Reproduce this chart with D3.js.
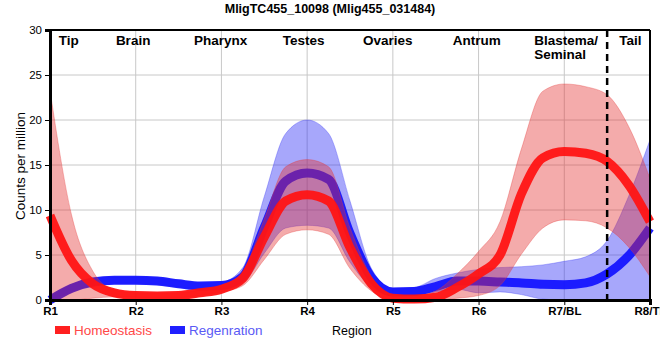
<!DOCTYPE html>
<html><head><meta charset="utf-8">
<script src="https://cdn.jsdelivr.net/npm/d3@7"></script>
<style>
html,body{margin:0;padding:0;background:#fff;}
svg{display:block;font-family:"Liberation Sans",Arial,sans-serif;}
</style></head>
<body><svg id="c" width="660" height="360"></svg>
<script>
const regions = ["R1","R2","R3","R4","R5","R6","R7/BL","R8/TL"];
const yTicks = [0,5,10,15,20,25,30];
const sectionNames = ["Tip","Brain","Pharynx","Testes","Ovaries","Antrum","Blastema/\nSeminal","Tail"];
const sectionAt = [0.22,0.97,1.99,2.96,3.94,4.98,5.65,6.77];
const tailBoundary = 6.5;
const xPos = [0,0.25,0.5,0.75,1,1.25,1.5,1.75,2,2.25,2.5,2.75,3,3.25,3.5,3.75,4,4.25,4.5,4.75,5,5.25,5.5,5.75,6,6.25,6.5,6.75,7];
const homeoMean = [9.4,4.4,1.8,0.8,0.5,0.45,0.5,0.8,1.2,2.4,7.0,11.0,11.7,11.0,5.8,1.8,0.2,0.1,0.3,1.4,2.9,5.0,11.8,15.8,16.5,16.3,15.4,12.8,8.7];
const homeoUpper = [23.3,9.5,3.2,1.1,0.8,0.75,0.8,1.1,1.6,3.2,9.0,14.8,15.6,14.8,8.0,2.6,0.5,0.4,1.0,2.9,5.4,8.7,16.8,23.2,24.0,23.7,22.8,19.3,13.5];
const homeoLower = [0,0,0.2,0.35,0.3,0.2,0.25,0.5,0.9,1.6,4.5,7.3,7.8,7.3,3.5,1.0,0,0,0,0.2,0.5,1.6,5.1,8.0,8.9,8.8,8.0,5.9,2.6];
const regenMean = [0.0,1.3,2.0,2.2,2.2,2.1,1.8,1.55,1.6,2.6,8.1,13.2,14.1,13.4,7.4,2.5,0.9,0.95,1.5,2.1,2.1,2.0,1.9,1.75,1.7,1.9,2.9,4.9,8.0];
const regenUpper = [0.35,1.7,2.35,2.55,2.55,2.45,2.15,1.9,2.0,3.6,11.5,18.5,20.0,18.5,11.0,3.5,1.3,1.4,2.4,3.0,3.4,3.6,3.7,3.9,4.3,4.8,6.6,11.5,17.8];
const regenLower = [0,0.9,1.65,1.85,1.85,1.75,1.45,1.2,1.2,1.9,5.2,8.0,8.3,8.0,4.2,1.4,0.5,0.5,0.9,1.2,0.8,0.9,0.6,0.1,0,0,0,0,0];
const seriesNames = ["Homeostasis","Regenration"];

const svg = d3.select("#c");
const L=50, R=650, T=30, B=300;
const x = d3.scaleLinear().domain([0, regions.length-1]).range([L,R]);
const y = d3.scaleLinear().domain([0,30]).range([B,T]);

svg.append("defs").append("clipPath").attr("id","clip")
  .append("rect").attr("x",L).attr("y",T).attr("width",R-L).attr("height",B-T);

// grid
const g = svg.append("g");
g.selectAll(".gy").data(yTicks).enter().append("line")
  .attr("x1",L).attr("x2",R).attr("y1",d=>y(d)).attr("y2",d=>y(d))
  .attr("stroke","#c8c8c8").attr("stroke-width",1);
g.selectAll(".gx").data(regions).enter().append("line")
  .attr("x1",(d,i)=>x(i)).attr("x2",(d,i)=>x(i)).attr("y1",T).attr("y2",B)
  .attr("stroke","#c8c8c8").attr("stroke-width",1);

const pts = (arr)=>xPos.map((p,i)=>({p, v:arr[i]}));
const band = (lo,hi)=>xPos.map((p,i)=>({p, lo:lo[i], hi:hi[i]}));
const area = d3.area().x(d=>x(d.p)).y0(d=>y(d.lo)).y1(d=>y(d.hi)).curve(d3.curveMonotoneX);
const line = d3.line().x(d=>x(d.p)).y(d=>y(d.v)).curve(d3.curveMonotoneX);

const plot = svg.append("g");
plot.append("path").datum(band(regenLower,regenUpper)).attr("d",area)
  .attr("clip-path","url(#clip)")
  .attr("fill","rgba(45,45,245,0.42)").attr("stroke","rgba(60,60,245,0.35)").attr("stroke-width",1);
plot.append("path").datum(pts(regenMean)).attr("d",line)
  .attr("fill","none").attr("stroke","rgba(20,20,255,0.95)").attr("stroke-width",9);
plot.append("path").datum(band(homeoLower,homeoUpper)).attr("d",area)
  .attr("clip-path","url(#clip)")
  .attr("fill","rgba(228,45,45,0.4)").attr("stroke","rgba(228,60,60,0.35)").attr("stroke-width",1);
plot.append("path").datum(pts(homeoMean)).attr("d",line)
  .attr("fill","none").attr("stroke","rgba(255,20,20,0.95)").attr("stroke-width",9);

// dashed boundary
svg.append("line").attr("x1",x(tailBoundary)).attr("x2",x(tailBoundary)).attr("y1",T).attr("y2",B+5)
  .attr("stroke","#000").attr("stroke-width",2.5).attr("stroke-dasharray","7,5");

// frame
svg.append("line").attr("x1",L).attr("x2",R).attr("y1",T).attr("y2",T).attr("stroke","#000").attr("stroke-width",2);
svg.append("line").attr("x1",R).attr("x2",R).attr("y1",T).attr("y2",B).attr("stroke","#000").attr("stroke-width",2);

// axes
const yAxis = d3.axisLeft(y).tickValues(yTicks).tickSize(5).tickPadding(3);
const ya = svg.append("g").attr("transform",`translate(${L},0)`).call(yAxis);
ya.select(".domain").attr("stroke","#000").attr("stroke-width",3);
ya.selectAll("text").attr("font-size",11.5).attr("fill","#000").attr("font-family","Liberation Sans, Arial, sans-serif");

const xAxis = d3.axisBottom(x).tickValues(d3.range(regions.length)).tickFormat(i=>regions[i]).tickSize(5).tickPadding(2);
const xa = svg.append("g").attr("transform",`translate(0,${B})`).call(xAxis);
xa.select(".domain").attr("stroke","#000").attr("stroke-width",3);
xa.selectAll("text").attr("font-size",11.5).attr("font-weight","bold").attr("fill","#000").attr("font-family","Liberation Sans, Arial, sans-serif");

// section labels
sectionNames.forEach((name,i)=>{
  const lines = name.split("\n");
  const t = svg.append("text").attr("x",x(sectionAt[i])).attr("y",45)
    .attr("text-anchor", lines.length>1 ? "start" : "middle")
    .attr("font-size",13.5).attr("font-weight","bold").attr("fill","#000");
  lines.forEach((ln,k)=>t.append("tspan").attr("x",x(sectionAt[i])).attr("dy",k===0?0:14).text(ln));
});

// title
svg.append("text").attr("x",330).attr("y",13).attr("text-anchor","middle")
  .attr("font-size",12.5).attr("font-weight","bold").text("MligTC455_10098 (Mlig455_031484)");

// y label
svg.append("text").attr("transform","translate(25,166) rotate(-90)").attr("text-anchor","middle")
  .attr("font-size",13.5).text("Counts per million");

// x label
svg.append("text").attr("x",332).attr("y",335).attr("font-size",12.5).text("Region");

// legend
const legColors = ["#ff2020","#2020ff"];
const legText = ["#ff4848","#5a5af5"];
const legX = [55,170];
seriesNames.forEach((s,i)=>{
  svg.append("rect").attr("x",legX[i]).attr("y",326).attr("width",15).attr("height",8).attr("fill",legColors[i]);
  svg.append("text").attr("x",legX[i]+19).attr("y",335).attr("font-size",13.5).attr("fill",legText[i]).text(s);
});
</script></body></html>
